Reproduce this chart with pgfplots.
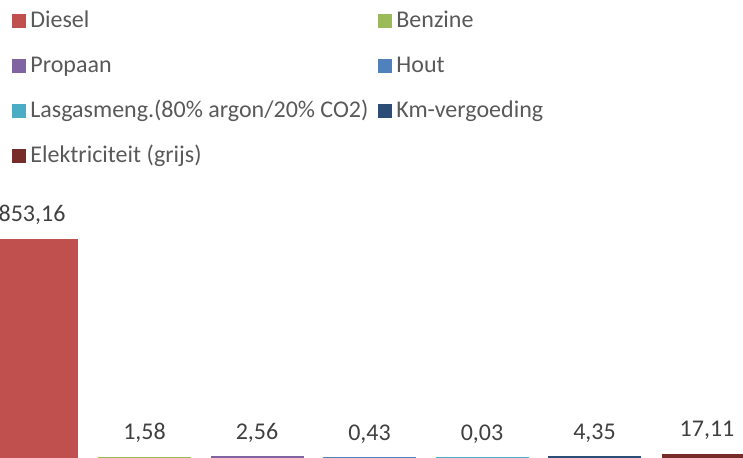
\documentclass[border=0pt]{standalone}
\usepackage{fontspec}
\setmainfont{Carlito}
\usepackage{pgfplots}
\pgfplotsset{compat=1.18}
\definecolor{cDiesel}{HTML}{C0504D}
\definecolor{cBenzine}{HTML}{9BBB59}
\definecolor{cPropaan}{HTML}{8064A2}
\definecolor{cHout}{HTML}{4F81BD}
\definecolor{cLasgas}{HTML}{4BACC6}
\definecolor{cKm}{HTML}{2C4D75}
\definecolor{cElek}{HTML}{772C2A}
\definecolor{cLabel}{HTML}{404040}
\definecolor{cLegend}{HTML}{595959}
\begin{document}
\begin{tikzpicture}
\useasboundingbox (0,0) rectangle (371.5pt,229pt);
\clip (0,0) rectangle (371.5pt,229pt);
\begin{axis}[
  at={(-12.125pt,0pt)}, anchor=south west,
  width=393.75pt, height=109.5pt, scale only axis,
  xmin=-0.5, xmax=6.5, ymin=0, ymax=853.16,
  hide axis, clip=false,
  ybar, bar width=45.5pt,
  /pgf/number format/assume math mode=true,
  nodes near coords={\pgfmathprintnumber[fixed,fixed zerofill,precision=2,use comma,assume math mode=true]{\pgfplotspointmeta}},
  every node near coord/.style={anchor=base, yshift=8.8pt, font=\fontsize{12}{14}\selectfont, text=cLabel, inner sep=0pt},
  legend style={at={(0.04603,2.0466)}, anchor=north west, draw=none, fill=none, inner sep=0pt,
    legend columns=2, font=\fontsize{12}{14}\selectfont,
    nodes={inner sep=0pt, text height=8.5pt, text depth=2.5pt, text=cLegend},
    row sep=11.5pt,
    /tikz/every even column/.append style={column sep=5pt},
    /tikz/every odd column/.append style={column sep=2pt}},
  legend cell align=left,
  legend image code/.code={\fill[#1,draw=none] (0pt,-3.5pt) rectangle (7pt,3.5pt);},
]
\addplot[fill=cDiesel, draw=none, bar shift=0pt] coordinates {(0,853.16)};
\addlegendentry{Diesel}
\addplot[fill=cBenzine, draw=cBenzine, line width=1pt, bar shift=0pt] coordinates {(1,1.58)};
\addlegendentry{Benzine}
\addplot[fill=cPropaan, draw=cPropaan, line width=1pt, bar shift=0pt] coordinates {(2,2.56)};
\addlegendentry{Propaan}
\addplot[fill=cHout, draw=cHout, line width=1pt, bar shift=0pt] coordinates {(3,0.43)};
\addlegendentry{Hout}
\addplot[fill=cLasgas, draw=cLasgas, line width=1pt, bar shift=0pt] coordinates {(4,0.03)};
\addlegendentry{Lasgasmeng.(80\% argon/20\% CO2)}
\addplot[fill=cKm, draw=cKm, line width=1pt, bar shift=0pt] coordinates {(5,4.35)};
\addlegendentry{Km-vergoeding}
\addplot[fill=cElek, draw=none, bar shift=0pt] coordinates {(6,17.11)};
\addlegendentry{Elektriciteit (grijs)}
\end{axis}
\end{tikzpicture}
\end{document}
